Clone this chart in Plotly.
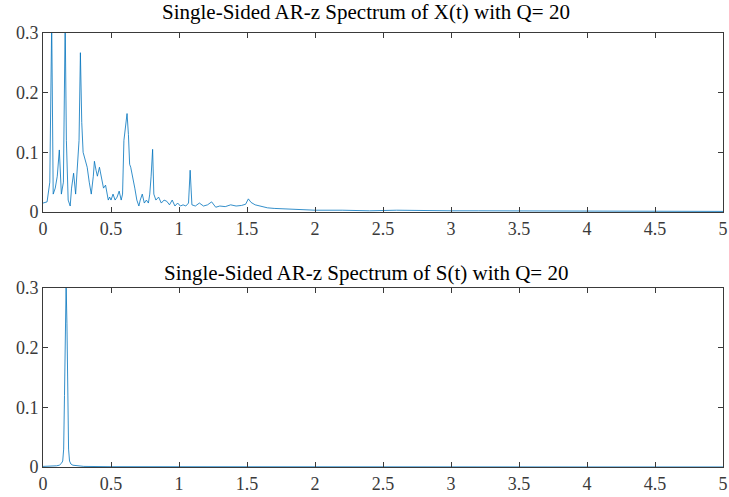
import plotly.graph_objects as go

# Top: spectrum of X(t)
x_top = [0.0, 0.03, 0.05, 0.064, 0.075, 0.09, 0.105, 0.12, 0.135, 0.15, 0.163, 0.172, 0.185, 0.2, 0.21,
         0.225, 0.24, 0.25, 0.265, 0.275, 0.285, 0.295, 0.31, 0.325, 0.34, 0.355, 0.37, 0.378, 0.39, 0.4,
         0.415, 0.43, 0.445, 0.46, 0.47, 0.48, 0.49, 0.5, 0.515, 0.53, 0.545, 0.56, 0.575, 0.585,
         0.595, 0.605, 0.618, 0.628, 0.637, 0.645, 0.66, 0.675, 0.69, 0.705, 0.715, 0.73, 0.745, 0.76,
         0.775, 0.785, 0.795, 0.806, 0.815, 0.83, 0.85, 0.87, 0.89, 0.91, 0.93, 0.95, 0.97, 0.99, 1.01,
         1.03, 1.05, 1.07, 1.082, 1.095, 1.12, 1.15, 1.18, 1.21, 1.24, 1.27, 1.3, 1.34, 1.38, 1.42,
         1.46, 1.49, 1.51, 1.53, 1.56, 1.6, 1.65, 1.7, 1.8, 1.9, 2.0, 2.2, 2.4, 2.6, 2.8, 3.0, 3.2,
         3.4, 3.6, 3.8, 4.0, 4.2, 4.4, 4.6, 4.8, 5.0]
y_top = [0.015, 0.017, 0.05, 0.32, 0.03, 0.04, 0.06, 0.104, 0.03, 0.05, 0.32, 0.12, 0.02, 0.01, 0.04,
         0.065, 0.03, 0.06, 0.12, 0.267, 0.15, 0.1, 0.085, 0.075, 0.05, 0.03, 0.06, 0.085, 0.07, 0.06,
         0.075, 0.06, 0.04, 0.045, 0.035, 0.02, 0.025, 0.02, 0.03, 0.02, 0.025, 0.035, 0.02, 0.03,
         0.12, 0.14, 0.165, 0.13, 0.08, 0.075, 0.06, 0.04, 0.02, 0.01, 0.02, 0.03, 0.015, 0.02,
         0.015, 0.03, 0.06, 0.105, 0.03, 0.02, 0.025, 0.015, 0.02, 0.018, 0.012, 0.02, 0.01, 0.015,
         0.01, 0.012, 0.01, 0.015, 0.07, 0.012, 0.01, 0.015, 0.01, 0.012, 0.017, 0.008, 0.01, 0.009,
         0.012, 0.01, 0.011, 0.013, 0.022, 0.016, 0.012, 0.01, 0.007, 0.006, 0.005, 0.004, 0.003,
         0.003, 0.002, 0.003, 0.002, 0.002, 0.002, 0.002, 0.001, 0.002, 0.002, 0.001, 0.002, 0.001,
         0.001, 0.001]

# Bottom: spectrum of S(t)
x_bot = [0.0, 0.05, 0.1, 0.12, 0.135, 0.145, 0.152, 0.158, 0.164, 0.17, 0.176, 0.182, 0.188, 0.195,
         0.205, 0.22, 0.25, 0.3, 0.5, 1.0, 2.0, 3.0, 4.0, 5.0]
y_bot = [0.001, 0.001, 0.002, 0.003, 0.006, 0.01, 0.03, 0.12, 0.25, 0.305, 0.24, 0.1, 0.03, 0.01,
         0.005, 0.003, 0.002, 0.001, 0.0005, 0.0003, 0.0002, 0.0002, 0.0001, 0.0001]

titles = ["Single-Sided AR-z Spectrum of X(t) with Q= 20",
          "Single-Sided AR-z Spectrum of S(t) with Q= 20"]
x_ticks = [0, 0.5, 1, 1.5, 2, 2.5, 3, 3.5, 4, 4.5, 5]
x_tick_text = ["0", "0.5", "1", "1.5", "2", "2.5", "3", "3.5", "4", "4.5", "5"]
y_ticks = [0, 0.1, 0.2, 0.3]
y_tick_text = ["0", "0.1", "0.2", "0.3"]

FONT = "Liberation Serif"
LINE = "#0072BD"
AX = "#3a3a3a"

fig = go.Figure()
fig.add_trace(go.Scatter(x=x_top, y=y_top, mode="lines", line=dict(color=LINE, width=0.8),
                         xaxis="x", yaxis="y", showlegend=False))
fig.add_trace(go.Scatter(x=x_bot, y=y_bot, mode="lines", line=dict(color=LINE, width=0.8),
                         xaxis="x2", yaxis="y2", showlegend=False))

axcommon = dict(showgrid=False, zeroline=False, showline=True, linecolor=AX, linewidth=1,
                mirror="ticks", ticks="inside", ticklen=5, tickcolor=AX, tickwidth=1,
                automargin=False, tickfont=dict(family=FONT, size=18, color=AX))

H = 497
mt, mb = 33, 30
ph = H - mt - mb
top_lo = (H - mb - 212) / ph
bot_hi = (467 - 288) / ph

fig.update_layout(
    width=729, height=497,
    margin=dict(l=43, r=6, t=mt, b=mb),
    paper_bgcolor="white", plot_bgcolor="white",
    hovermode=False,
    xaxis=dict(domain=[0, 1], range=[0, 5], tickvals=x_ticks, ticktext=x_tick_text,
               anchor="y", **axcommon),
    yaxis=dict(domain=[top_lo, 1], range=[0, 0.3], tickvals=y_ticks, ticktext=y_tick_text,
               anchor="x", **axcommon),
    xaxis2=dict(domain=[0, 1], range=[0, 5], tickvals=x_ticks, ticktext=x_tick_text,
                anchor="y2", **axcommon),
    yaxis2=dict(domain=[0, bot_hi], range=[0, 0.3], tickvals=y_ticks, ticktext=y_tick_text,
                anchor="x2", **axcommon),
    annotations=[
        dict(text=titles[0], xref="paper", yref="paper", x=(366 - 43) / 680, y=1,
             yshift=21, showarrow=False, xanchor="center", yanchor="middle",
             font=dict(family=FONT, size=21, color="black")),
        dict(text=titles[1], xref="paper", yref="paper", x=(366 - 43) / 680, y=bot_hi,
             yshift=15, showarrow=False, xanchor="center", yanchor="middle",
             font=dict(family=FONT, size=21, color="black")),
    ],
)

fig.write_html("out.html", config={"displayModeBar": False},
               post_script="document.body.style.margin='0px';")
